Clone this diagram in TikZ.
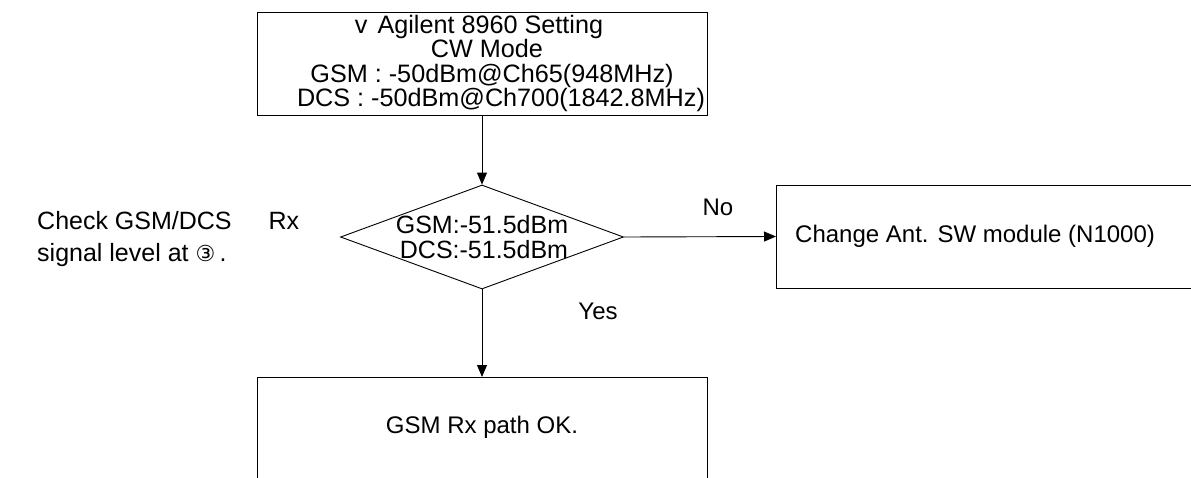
\documentclass[tikz,border=0pt]{standalone}
\usepackage{fontspec}
\setmainfont{Liberation Sans}
\newfontfamily\symfont{DejaVu Sans}
\usetikzlibrary{shapes.geometric,arrows.meta,calc}
\begin{document}
\begin{tikzpicture}[x=1pt,y=-1pt,
  box/.style={draw=black,line width=0.9pt,fill=none,inner sep=0pt},
  lbl/.style={inner sep=0pt,font=\fontsize{24}{25}\selectfont},
  conn/.style={draw=black,line width=0.9pt,-{Triangle[length=12pt,width=10pt]}}]
\useasboundingbox[fill=white] (0,0) rectangle (1191,477);
\clip (0,0) rectangle (1191,477);
% top box
\node[box,minimum width=450pt,minimum height=103pt,align=center,
      font=\fontsize{25.2}{24.3}\selectfont] (setting) at (482,63.5)
  {v\hspace{0.4em}Agilent 8960 Setting\hspace*{6pt}\\\hspace*{10pt}CW Mode\\\hspace*{20pt}GSM : -50dBm@Ch65(948MHz)\\\hspace*{38pt}DCS : -50dBm@Ch700(1842.8MHz)};
% decision diamond
\node[box,shape=diamond,minimum width=283pt,minimum height=104pt] (dec) at (482,237) {};
\node[inner sep=0pt,align=center,font=\fontsize{25}{25}\selectfont] (dectext) at (dec.center) {GSM:-51.5dBm\\\hspace*{4pt}DCS:-51.5dBm};
% right box
\node[box,minimum width=430pt,minimum height=103pt,anchor=west] (chg) at (776,236.5) {};
\node[lbl,anchor=west] (chgtext) at ($(chg.west)+(19,0)$) {Change Ant. SW module (N1000)};
% bottom box
\node[box,minimum width=450pt,minimum height=130pt,anchor=north] (ok) at (482,377) {};
\node[lbl] (oktext) at (482,427) {GSM Rx path OK.};
% left note
\node[inner sep=0pt,anchor=west,align=left,font=\fontsize{25}{32}\selectfont] (note) at (37,239)
  {Check GSM/DCS\hspace{37pt}Rx\\signal level at {\symfont\fontsize{22}{32}\selectfont ③}\,.};
% connectors
\draw[conn] (setting.south) -- (dec.north);
\draw[conn] (dec.east) -- (chg.west);
\draw[conn] (dec.south) -- (ok.north);
% labels
\node[lbl] (no) at (718,207) {No};
\node[lbl] (yes) at (598,311) {Yes};
\end{tikzpicture}
\end{document}
